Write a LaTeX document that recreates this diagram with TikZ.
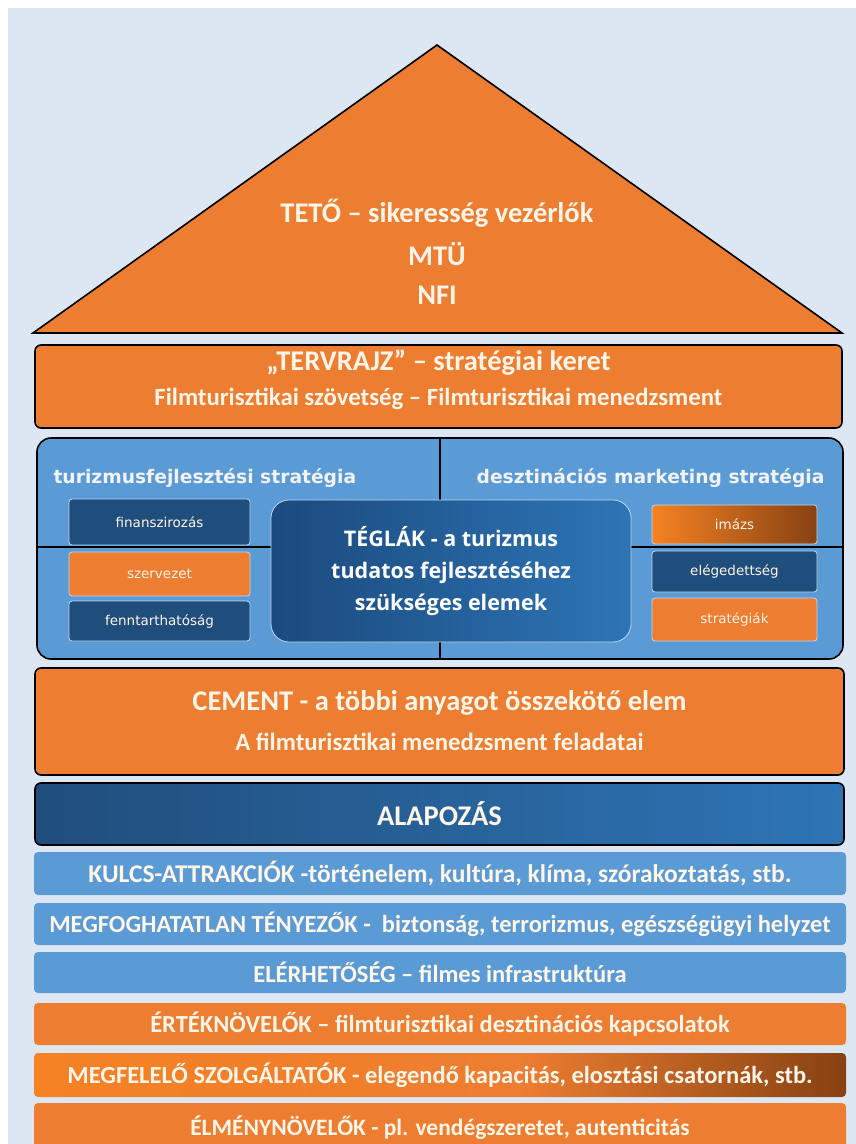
\documentclass[tikz,border=0pt]{standalone}
\usepackage{fontspec}
\setmainfont{Carlito}
\newfontfamily\verdfont{DejaVu Sans}
\newfontfamily\brickfont{Open Sans}
\usetikzlibrary{positioning}
\definecolor{bgblue}{RGB}{220,231,243}
\definecolor{houseorange}{RGB}{237,125,49}
\definecolor{brightorange}{RGB}{245,130,35}
\definecolor{midblue}{RGB}{91,155,213}
\definecolor{darkblue}{RGB}{32,78,124}
\definecolor{deepblue}{RGB}{27,74,126}
\definecolor{lightblue}{RGB}{46,117,182}
\definecolor{brickedge}{RGB}{189,215,238}
\definecolor{rust}{RGB}{135,66,18}
\definecolor{cream}{RGB}{255,245,232}
\pgfdeclarehorizontalshading{serviceshade}{100bp}{color(0bp)=(brightorange); color(25bp)=(brightorange); color(55bp)=(houseorange); color(75bp)=(rust); color(100bp)=(rust)}
\tikzset{housebar/.style = {rectangle, rounded corners=6pt, draw=black, line width=1.6pt, inner sep=0pt},
	orangebar/.style = {housebar, fill=houseorange},
	rooftext/.style = {text=cream, font=\fontsize{28.5}{33}\selectfont\bfseries},
	subtext/.style = {text=cream, font=\fontsize{24.8}{29}\selectfont\bfseries},
	stripe/.style = {rectangle, rounded corners=4pt, inner sep=0pt, minimum width=812, text=cream, font=\fontsize{24.5}{28}\selectfont\bfseries},
	brick/.style = {rectangle, rounded corners=3pt, draw=brickedge, line width=0.8pt, inner sep=0pt, text=cream, font=\verdfont\fontsize{13.5}{16}\selectfont},
	plantext/.style = {text=white!95!black, font=\verdfont\bfseries\fontsize{18.7}{22}\selectfont},
	divline/.style = {line width=1.6pt, black}}

\begin{document}
\begin{tikzpicture}[x=1pt, y=-1pt]
 \useasboundingbox (0,0) rectangle (856,1144);
 \fill[bgblue] (8,8) rectangle (856,1144);

 % roof
 \coordinate (roofleft) at (33,333);
 \coordinate (roofapex) at (437,45);
 \coordinate (roofright) at (842,333);
 \draw[fill=houseorange, line width=1.6pt] (roofleft) -- (roofapex) -- (roofright) -- cycle;
 \node (teto) at (437,213) [rooftext] {TETŐ – sikeresség vezérlők};
 \node (mtu) at (437,254) [rooftext] {MTÜ};
 \node (nfi) at (437,295) [rooftext] {NFI};

 % blueprint
 \node (tervrajz) at (438.5,386.5) [orangebar, minimum width=807, minimum height=83] {};
 \node (tervtitle) at (438.5,363) [rooftext] {„TERVRAJZ” – stratégiai keret};
 \node (tervsub) at (438.5,399) [subtext] {Filmturisztikai szövetség – Filmturisztikai menedzsment};

 % bricks
 \node (strategia) at (440,548.5) [housebar, rounded corners=14pt, fill=midblue, minimum width=806, minimum height=221] {};
 \coordinate (divleft) at (37,547);
 \coordinate (divright) at (843,547);
 \draw[divline] (strategia.north) -- (strategia.south);
 \draw[divline] (divleft) -- (divright);
 \node (turizmus) at (50,478) [plantext, anchor=west] {turizmusfejlesztési stratégia};
 \node (marketing) at (828,478) [plantext, anchor=east] {desztinációs marketing stratégia};

 \node (finansz) at (159.5,522) [brick, fill=darkblue, minimum width=181, minimum height=46] {finanszirozás};
 \node (szervezet) at (159.5,574) [brick, fill=houseorange, minimum width=181, minimum height=44] {szervezet};
 \node (fennt) at (159.5,621) [brick, fill=darkblue, minimum width=181, minimum height=40] {fenntarthatóság};

 \node (imazs) at (734.5,524.5) [brick, left color=brightorange, right color=rust, minimum width=165, minimum height=39] {imázs};
 \node (elegedett) at (734.5,571.5) [brick, fill=darkblue, minimum width=165, minimum height=41] {elégedettség};
 \node (strat) at (734.5,619.5) [brick, fill=houseorange, minimum width=165, minimum height=43] {stratégiák};

 \node (teglak) at (451,571) [brick, rounded corners=18pt, left color=deepblue, right color=lightblue, minimum width=360, minimum height=142, align=center, text=white, font=\brickfont\bfseries\fontsize{21.5}{32}\selectfont] {TÉGLÁK - a turizmus\\tudatos fejlesztéséhez\\szükséges elemek};

 % cement
 \node (cement) at (439.5,721.5) [orangebar, minimum width=809, minimum height=107] {};
 \node (cementtitle) at (439.5,703) [rooftext] {CEMENT - a többi anyagot összekötő elem};
 \node (cementsub) at (439.5,742) [subtext] {A filmturisztikai menedzsment feladatai};

 % foundation
 \node (alapozas) at (439.5,814) [housebar, left color=darkblue, right color=lightblue, minimum width=809, minimum height=62, rooftext] {ALAPOZÁS};
 \node (kulcs) at (440,873.5) [stripe, fill=midblue, minimum height=43, font=\fontsize{25.5}{29}\selectfont\bfseries] {KULCS-ATTRAKCIÓK -történelem, kultúra, klíma, szórakoztatás, stb.};
 \node (megfog) at (440,924) [stripe, fill=midblue, minimum height=42] {MEGFOGHATATLAN TÉNYEZŐK -\ \ biztonság, terrorizmus, egészségügyi helyzet};
 \node (elerh) at (440,972.5) [stripe, fill=midblue, minimum height=41] {ELÉRHETŐSÉG – filmes infrastruktúra};
 \node (ertek) at (440,1024) [stripe, fill=houseorange, minimum height=42] {ÉRTÉKNÖVELŐK – filmturisztikai desztinációs kapcsolatok};
 \node (szolg) at (440,1075) [stripe, shading=serviceshade, minimum height=44] {MEGFELELŐ SZOLGÁLTATÓK - elegendő kapacitás, elosztási csatornák, stb.};
 \node (elmeny) at (440,1128) [stripe, fill=houseorange, minimum height=50, font=\fontsize{23.5}{27}\selectfont\bfseries] {ÉLMÉNYNÖVELŐK - pl. vendégszeretet, autenticitás};

\end{tikzpicture}
\end{document}
